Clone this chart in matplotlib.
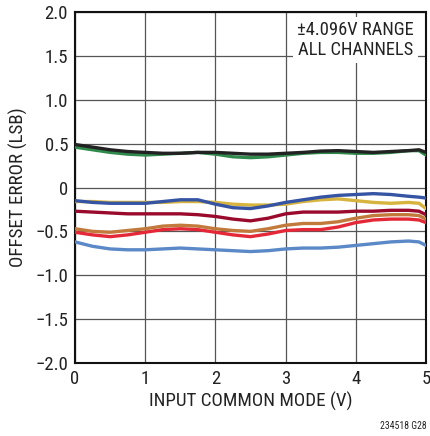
import numpy as np
import matplotlib
matplotlib.use("Agg")
import matplotlib.pyplot as plt

plt.rcParams['font.family'] = ['Roboto Condensed', 'DejaVu Sans']

# input common mode (V)
vcm = [0, 0.25, 0.5, 0.75, 1.0, 1.25, 1.5, 1.75, 2.0, 2.25, 2.5, 2.75,
       3.0, 3.25, 3.5, 3.75, 4.0, 4.25, 4.5, 4.75, 4.9, 5.0]

# offset error (LSB), one list per channel
ch_black = [0.49, 0.46, 0.43, 0.41, 0.40, 0.39, 0.39, 0.40, 0.40, 0.39, 0.38, 0.38,
            0.39, 0.40, 0.415, 0.42, 0.41, 0.40, 0.41, 0.42, 0.43, 0.40]
ch_green = [0.46, 0.43, 0.40, 0.38, 0.37, 0.38, 0.39, 0.40, 0.38, 0.35, 0.34, 0.35,
            0.37, 0.39, 0.40, 0.40, 0.39, 0.39, 0.40, 0.42, 0.42, 0.37]
ch_blue = [-0.15, -0.17, -0.18, -0.18, -0.18, -0.16, -0.14, -0.14, -0.19, -0.23, -0.24, -0.21,
           -0.17, -0.14, -0.11, -0.09, -0.08, -0.07, -0.08, -0.10, -0.11, -0.12]
ch_yellow = [-0.16, -0.16, -0.17, -0.17, -0.17, -0.17, -0.16, -0.16, -0.17, -0.19, -0.20, -0.20,
             -0.19, -0.16, -0.14, -0.13, -0.15, -0.17, -0.18, -0.17, -0.18, -0.24]
ch_darkred = [-0.27, -0.28, -0.29, -0.30, -0.30, -0.30, -0.30, -0.31, -0.33, -0.36, -0.38, -0.35,
              -0.30, -0.28, -0.28, -0.28, -0.27, -0.27, -0.26, -0.26, -0.27, -0.31]
ch_brown = [-0.47, -0.50, -0.51, -0.49, -0.47, -0.44, -0.43, -0.44, -0.47, -0.49, -0.50, -0.47,
            -0.43, -0.41, -0.41, -0.39, -0.35, -0.32, -0.31, -0.31, -0.32, -0.36]
ch_red = [-0.51, -0.54, -0.56, -0.54, -0.51, -0.48, -0.47, -0.48, -0.51, -0.54, -0.56, -0.53,
          -0.49, -0.48, -0.48, -0.45, -0.40, -0.37, -0.36, -0.36, -0.37, -0.40]
ch_ltblue = [-0.62, -0.67, -0.70, -0.71, -0.71, -0.70, -0.69, -0.70, -0.71, -0.72, -0.73, -0.72,
             -0.70, -0.69, -0.69, -0.68, -0.66, -0.64, -0.62, -0.61, -0.62, -0.66]

series = [ch_ltblue, ch_red, ch_brown, ch_darkred, ch_yellow, ch_blue, ch_green, ch_black]
colors = ['#5b88c6', '#e52838', '#c27a3c', '#990a2c', '#d6b43e', '#3654a4', '#2f8a4c', '#222222']

xticks = [0, 1, 2, 3, 4, 5]
xlabels = ['0', '1', '2', '3', '4', '5']
yticks = [-2.0, -1.5, -1.0, -0.5, 0, 0.5, 1.0, 1.5, 2.0]
ylabels = ['\u22122.0', '\u22121.5', '\u22121.0', '\u22120.5', '0', '0.5', '1.0', '1.5', '2.0']

fig = plt.figure(figsize=(4.30, 4.36), dpi=100)
ax = fig.add_axes([0.1744, 0.1674, 0.8163, 0.8051])

for s, c in zip(series, colors):
    ax.plot(vcm, s, color=c, lw=2.4, solid_capstyle='round', zorder=3)

ax.set_xlim(0, 5)
ax.set_ylim(-2, 2)
ax.set_xticks(xticks)
ax.set_xticklabels(xlabels)
ax.set_yticks(yticks)
ax.set_yticklabels(ylabels)
ax.tick_params(length=0, labelsize=13.5, pad=5, colors='#222222')
ax.grid(True, color='#555555', lw=0.9)
for sp in ax.spines.values():
    sp.set_linewidth(1.5)
    sp.set_color('#111111')

ax.set_xlabel('INPUT COMMON MODE (V)', fontsize=13.7, color='#222222', labelpad=3)
ax.set_ylabel('OFFSET ERROR (LSB)', fontsize=13.7, color='#222222', labelpad=5)

ax.text(4.0, 1.68, '\u00b14.096V RANGE\nALL CHANNELS', ha='center', va='center',
        fontsize=13.3, color='#222222', linespacing=1.15, zorder=4,
        bbox=dict(facecolor='white', edgecolor='none', pad=3))

fig.text(0.993, 0.012, '234518 G28', ha='right', va='bottom', fontsize=7, color='#222222')

fig.savefig('out.png', dpi=100)
